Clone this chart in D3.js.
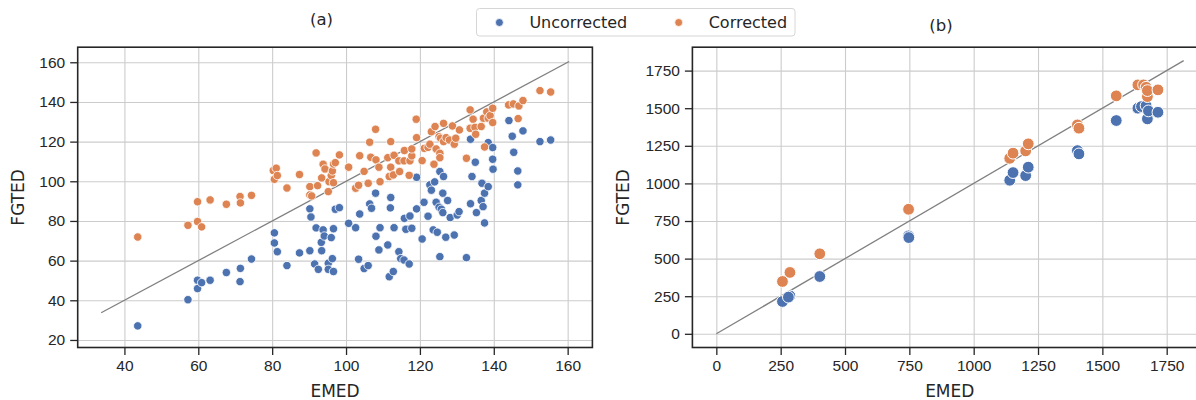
<!DOCTYPE html>
<html>
<head>
<meta charset="utf-8">
<script src="https://cdnjs.cloudflare.com/ajax/libs/d3/7.8.5/d3.min.js"></script>
<style>
  body { margin: 0; background: #fff; }
  svg { font-family: "DejaVu Sans", sans-serif; }
  .grid line { stroke: #cccccc; stroke-width: 1.1; }
  .axis text { fill: #262626; font-size: 15.5px; }
  .axis line { stroke: #262626; stroke-width: 1.3; }
</style>
</head>
<body>
<script>
// panel (a): [EMED, FGTED]
var uncorrectedA = [
  [43.6,27.1],[57.2,40.3],[59.8,45.9],[59.8,50.1],[60.9,48.9],[63.2,50.1],[67.6,54.0],[71.3,49.4],
  [71.4,56.1],[74.4,60.8],[80.6,74.0],[80.6,68.9],[81.4,64.5],[84.0,57.5],[87.4,63.9],[90.2,86.1],
  [90.5,82.0],[90.2,65.0],[91.5,58.3],[91.9,76.5],[92.5,55.6],[93.3,69.2],[93.4,65.0],[93.8,75.5],
  [94.1,72.4],[95.2,58.7],[95.2,55.6],[96.0,71.6],[96.3,61.0],[96.6,76.1],[96.6,54.5],[97.1,85.9],
  [98.2,86.7],[100.7,78.8],[102.6,76.6],[103.4,60.7],[103.7,83.5],[104.9,56.0],[106.0,57.5],[106.4,88.6],
  [106.9,86.4],[108.0,94.0],[108.1,72.3],[108.9,65.4],[109.2,76.6],[111.3,67.9],[111.7,51.9],[112.1,91.8],
  [112.0,86.6],[112.8,54.5],[113.0,76.6],[114.3,64.5],[114.8,61.0],[115.7,60.3],[115.8,81.3],[116.2,75.8],
  [117.3,82.5],[117.1,58.3],[117.8,76.3],[119.1,102.0],[119.1,86.1],[120.6,70.9],[121.1,89.4],[122.2,82.4],
  [122.7,98.2],[123.1,95.5],[123.6,75.5],[124.0,99.7],[124.4,89.4],[124.7,74.3],[125.2,86.9],[125.4,104.9],
  [125.4,62.0],[125.8,85.9],[126.2,94.0],[126.2,84.2],[126.4,102.4],[127.0,71.8],[127.5,90.3],[128.2,81.7],
  [129.3,72.9],[130.1,83.0],[130.6,84.7],[132.6,61.5],[133.7,121.2],[133.7,88.7],[134.1,102.4],[135.0,109.6],
  [135.3,84.2],[136.6,90.3],[136.8,99.0],[137.1,87.2],[137.5,94.0],[137.5,79.0],[138.5,119.5],[138.5,97.3],
  [139.7,117.0],[139.7,111.1],[139.8,106.1],[144.1,130.6],[145.0,122.7],[145.4,114.6],[146.5,105.2],[146.5,98.2],
  [147.9,125.4],[152.5,120.0],[155.4,120.8]
];
var correctedA = [
  [43.6,71.9],[57.2,77.8],[59.8,79.7],[59.8,89.7],[60.9,77.0],[63.2,90.6],[67.6,88.4],[71.3,92.3],
  [71.4,89.1],[74.4,92.9],[80.3,105.4],[81.1,106.6],[80.6,101.0],[81.4,102.9],[84.0,96.6],[87.4,103.4],
  [90.2,97.3],[90.2,93.1],[90.7,92.6],[91.9,114.3],[92.3,97.8],[93.4,101.7],[93.8,108.6],[94.3,106.2],
  [95.2,94.8],[95.4,99.8],[96.0,102.9],[96.3,105.2],[96.6,99.3],[96.6,108.7],[97.1,109.4],[98.2,113.3],
  [100.7,107.1],[102.6,96.5],[103.4,98.0],[103.7,112.9],[104.9,105.0],[106.0,99.0],[106.4,119.7],[106.7,112.1],
  [108.0,126.2],[108.1,110.8],[108.9,107.1],[109.2,99.8],[111.3,111.9],[111.7,102.4],[112.1,120.0],[112.1,107.1],
  [112.8,103.2],[113.0,113.1],[114.3,110.3],[114.5,104.9],[115.7,110.3],[115.8,115.5],[117.1,103.0],[117.3,110.3],
  [117.8,112.8],[117.8,116.3],[119.0,131.3],[119.1,122.0],[120.6,110.4],[121.2,116.6],[122.2,117.1],[122.7,118.7],
  [123.1,125.0],[123.8,108.6],[124.1,127.6],[124.4,116.3],[125.2,122.5],[125.4,114.1],[125.4,111.9],[125.6,121.7],
  [126.4,120.0],[126.4,129.2],[127.1,122.0],[128.0,120.8],[128.8,127.9],[129.3,118.7],[129.7,121.7],[130.7,125.9],
  [132.6,111.6],[133.6,136.0],[133.6,126.7],[134.4,131.3],[134.9,127.2],[135.1,123.7],[136.6,127.6],[137.2,131.8],
  [137.5,117.3],[138.1,135.0],[138.5,131.8],[139.0,133.1],[139.7,136.8],[139.7,129.6],[144.0,138.5],[145.3,139.0],
  [146.6,131.6],[146.8,138.0],[147.9,140.7],[152.5,145.7],[155.4,145.0]
];
// panel (b): [EMED, FGTED]
var uncorrectedB = [
  [257,215],[286,252],[280,244],[402,381],[747,651],[748,640],[1140,1021],[1153,1072],[1202,1052],[1212,1108],
  [1403,1218],[1409,1196],[1554,1418],[1638,1500],[1652,1511],[1670,1517],[1675,1429],[1679,1482],[1716,1473]
];
var correctedB = [
  [257,348],[286,408],[402,532],[747,828],[1140,1167],[1153,1201],[1202,1216],[1212,1263],
  [1403,1389],[1409,1367],[1554,1582],[1638,1655],[1660,1655],[1670,1639],[1675,1577],[1675,1617],[1716,1622]
];
var lineA = [33.7, 160.4];
var lineB = [0, 1816];
var xTicksA = [40, 60, 80, 100, 120, 140, 160];
var yTicksA = [20, 40, 60, 80, 100, 120, 140, 160];
var xTicksB = [0, 250, 500, 750, 1000, 1250, 1500, 1750];
var yTicksB = [0, 250, 500, 750, 1000, 1250, 1500, 1750];
var seriesNames = ["Uncorrected", "Corrected"];
var colors = ["#4c72b0", "#dd8452"];

var W = 1196, H = 400;
var svg = d3.select("body").append("svg").attr("width", W).attr("height", H);
var fmt = d3.format("d");

function drawPanel(p) {
  var x = d3.scaleLinear().domain(p.xDomain).range([p.left, p.right]);
  var y = d3.scaleLinear().domain(p.yDomain).range([p.bottom, p.top]);
  var g = svg.append("g");

  // clip to the axes area
  var clipId = "clip" + p.name;
  g.append("clipPath").attr("id", clipId).append("rect")
    .attr("x", p.left).attr("y", p.top)
    .attr("width", p.right - p.left).attr("height", p.bottom - p.top);

  // grid
  g.append("g").attr("class", "grid")
    .attr("transform", "translate(0," + p.bottom + ")")
    .call(d3.axisBottom(x).tickValues(p.xTicks).tickSize(-(p.bottom - p.top)).tickFormat(""))
    .call(function (s) { s.select(".domain").remove(); });
  g.append("g").attr("class", "grid")
    .attr("transform", "translate(" + p.left + ",0)")
    .call(d3.axisLeft(y).tickValues(p.yTicks).tickSize(-(p.right - p.left)).tickFormat(""))
    .call(function (s) { s.select(".domain").remove(); });

  var plot = g.append("g").attr("clip-path", "url(#" + clipId + ")");

  // identity line
  plot.append("line")
    .attr("x1", x(p.line[0])).attr("y1", y(p.line[0]))
    .attr("x2", x(p.line[1])).attr("y2", y(p.line[1]))
    .attr("stroke", "#808080").attr("stroke-width", 1.3);

  [p.unc, p.cor].forEach(function (data, i) {
    plot.append("g").selectAll("circle").data(data).join("circle")
      .attr("cx", function (d) { return x(d[0]); })
      .attr("cy", function (d) { return y(d[1]); })
      .attr("r", p.r)
      .attr("fill", colors[i])
      .attr("stroke", "#fff").attr("stroke-width", p.sw);
  });

  // axes
  g.append("g").attr("class", "axis")
    .attr("transform", "translate(0," + p.bottom + ")")
    .call(d3.axisBottom(x).tickValues(p.xTicks).tickFormat(fmt).tickSize(7.5).tickPadding(5))
    .call(function (s) { s.select(".domain").remove(); });
  g.append("g").attr("class", "axis")
    .attr("transform", "translate(" + p.left + ",0)")
    .call(d3.axisLeft(y).tickValues(p.yTicks).tickFormat(fmt).tickSize(7.5).tickPadding(5))
    .call(function (s) { s.select(".domain").remove(); });

  // spines
  g.append("rect")
    .attr("x", p.left).attr("y", p.top)
    .attr("width", p.right - p.left).attr("height", p.bottom - p.top)
    .attr("fill", "none").attr("stroke", "#262626").attr("stroke-width", 1.6);

  // labels
  g.append("text").attr("x", (p.left + p.right) / 2).attr("y", 397)
    .attr("text-anchor", "middle").attr("fill", "#262626").style("font-size", "17px").text("EMED");
  g.append("text")
    .attr("transform", "translate(" + p.yLabelX + "," + ((p.top + p.bottom) / 2) + ") rotate(-90)")
    .attr("text-anchor", "middle").attr("fill", "#262626").style("font-size", "17px").text("FGTED");
  g.append("text").attr("x", p.titleX).attr("y", p.titleY)
    .attr("text-anchor", "middle").attr("fill", "#262626").style("font-size", "16.5px").text(p.title);
}

drawPanel({
  name: "a", title: "(a)", titleX: 321.5, titleY: 25,
  left: 77.7, right: 592.4, top: 47.2, bottom: 347.5, yLabelX: 23.5,
  xDomain: [27.35, 166.7], yDomain: [16.2, 167.6],
  xTicks: xTicksA, yTicks: yTicksA, line: lineA,
  unc: uncorrectedA, cor: correctedA, r: 4.2, sw: 0.8
});

drawPanel({
  name: "b", title: "(b)", titleX: 941, titleY: 31,
  left: 692.4, right: 1207.1, top: 47.2, bottom: 347.5, yLabelX: 628.5,
  xDomain: [-93, 1907], yDomain: [-91, 1905.6],
  xTicks: xTicksB, yTicks: yTicksB, line: lineB,
  unc: uncorrectedB, cor: correctedB, r: 5.9, sw: 1
});

// legend
var leg = svg.append("g");
leg.append("rect").attr("x", 476.5).attr("y", 8.5).attr("width", 318.5).attr("height", 27.5)
  .attr("rx", 3).attr("fill", "#fff").attr("stroke", "#d6d6d6").attr("stroke-width", 1);
var legX = [499.4, 678.7];
seriesNames.forEach(function (n, i) {
  leg.append("circle").attr("cx", legX[i]).attr("cy", 22.5).attr("r", 4)
    .attr("fill", colors[i]).attr("stroke", "#fff").attr("stroke-width", 0.8);
  leg.append("text").attr("x", legX[i] + 30).attr("y", 28)
    .attr("fill", "#262626").style("font-size", "16px").text(n);
});
</script>
</body>
</html>
